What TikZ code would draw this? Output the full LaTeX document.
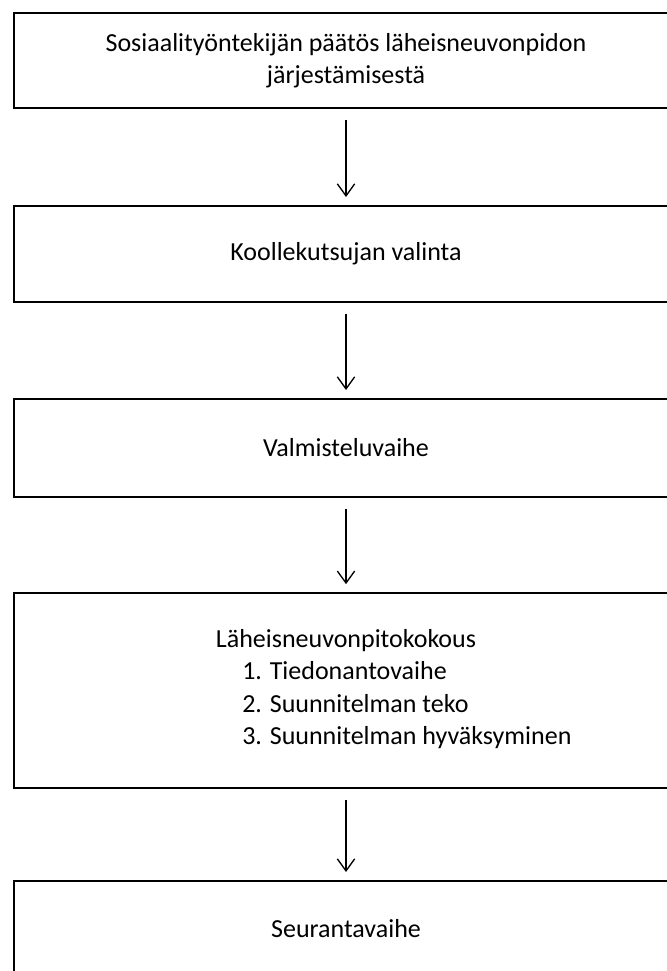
\documentclass[tikz,border=0pt]{standalone}
\usepackage{fontspec}
\setmainfont{Carlito}
\usetikzlibrary{arrows.meta,positioning}

\begin{document}
\begin{tikzpicture}[x=0.75pt, y=-0.75pt,
    phase/.style={draw, line width=1.5pt, minimum width=498pt, inner sep=0pt, align=center, font=\fontsize{19.5}{24}\selectfont},
    flow/.style={line width=1pt, arrows={-Straight Barb[length=9pt, width=13pt, line width=1pt]}, shorten <=8pt, shorten >=6pt},
    lbl/.style={inner sep=0pt, font=\fontsize{19.5}{24}\selectfont}]
    \clip (0,0) rectangle (667,971);

    \node[phase, minimum height=71.25pt] (decision) at (346,60.5) {Sosiaalityöntekijän päätös läheisneuvonpidon\\järjestämisestä};
    \node[phase, minimum height=72pt] (invite) at (346,254) {Koollekutsujan valinta};
    \node[phase, minimum height=73.5pt] (prep) at (346,448) {Valmisteluvaihe};
    \node[phase, minimum height=146pt] (meeting) at (346,690.5) {};
    \node[phase, minimum height=71.25pt] (follow) at (346,928.5) {Seurantavaihe};

    % kokouksen vaiheet
    \node[lbl, anchor=base] (mtitle) at (346,647) {Läheisneuvonpitokokous};
    \node[lbl, anchor=base west] (step1) at (242,679) {1. Tiedonantovaihe};
    \node[lbl, anchor=base west] (step2) at (242,712) {2. Suunnitelman teko};
    \node[lbl, anchor=base west] (step3) at (242,744) {3. Suunnitelman hyväksyminen};

    \draw[flow] (decision) -- (invite);
    \draw[flow] (invite) -- (prep);
    \draw[flow] (prep) -- (meeting);
    \draw[flow] (meeting) -- (follow);
\end{tikzpicture}
\end{document}
